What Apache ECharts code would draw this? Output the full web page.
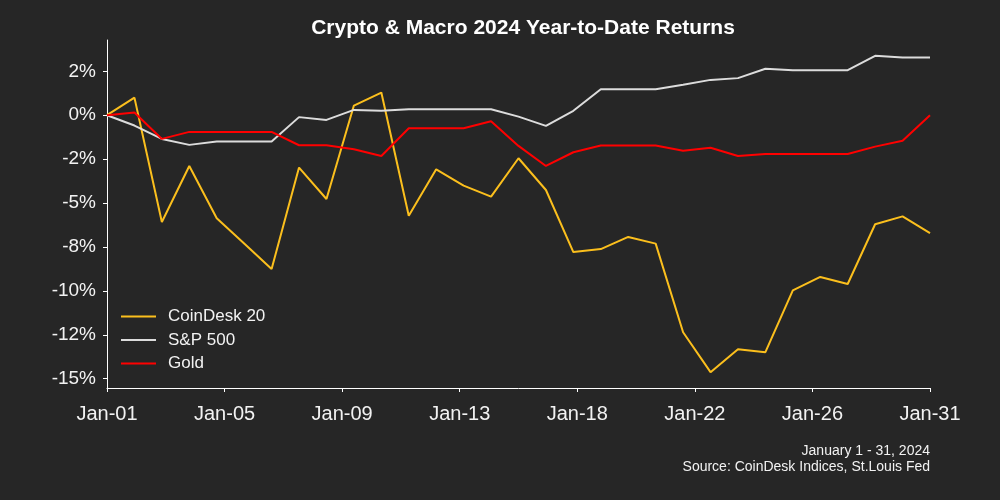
<!DOCTYPE html>
<html>
<head>
<meta charset="utf-8">
<script src="https://cdn.jsdelivr.net/npm/echarts@6/dist/echarts.min.js"></script>
<style>
  html, body { margin: 0; padding: 0; background: #262626; }
  #chart { width: 1000px; height: 500px; }
</style>
</head>
<body>
<div id="chart"></div>
<script>
// one point per calendar day, Jan-01 .. Jan-31
const dates = [
  'Jan-01', 'Jan-02', 'Jan-03', 'Jan-04', 'Jan-05', 'Jan-06', 'Jan-07', 'Jan-08',
  'Jan-09', 'Jan-10', 'Jan-11', 'Jan-12', 'Jan-13', 'Jan-14', 'Jan-15', 'Jan-16',
  'Jan-17', 'Jan-18', 'Jan-19', 'Jan-20', 'Jan-21', 'Jan-22', 'Jan-23', 'Jan-24',
  'Jan-25', 'Jan-26', 'Jan-27', 'Jan-28', 'Jan-29', 'Jan-30', 'Jan-31'
];

const coindesk20 = [
  0, 1.0, -6.08, -2.89, -5.87, -7.3, -8.76, -2.98, -4.77, 0.55,
  1.29, -5.72, -3.08, -4.01, -4.64, -2.45, -4.26, -7.79, -7.62, -6.93,
  -7.31, -12.36, -14.63, -13.32, -13.49, -9.97, -9.21, -9.61, -6.21, -5.76,
  -6.71
];
const sp500 = [
  0, -0.59, -1.35, -1.69, -1.5, -1.5, -1.5, -0.11, -0.27, 0.3,
  0.25, 0.34, 0.34, 0.34, 0.34, -0.08, -0.61, 0.25, 1.48, 1.48,
  1.48, 1.73, 2.01, 2.11, 2.64, 2.56, 2.56, 2.56, 3.38, 3.28,
  3.28
];
const gold = [
  0, 0.15, -1.35, -0.95, -0.95, -0.95, -0.95, -1.71, -1.71, -1.94,
  -2.32, -0.74, -0.74, -0.74, -0.34, -1.75, -2.89, -2.11, -1.73, -1.73,
  -1.73, -2.03, -1.85, -2.32, -2.21, -2.21, -2.21, -2.21, -1.79, -1.46,
  0
];

// y ticks every 2.5%, labels rounded the way the source did
const yTicks = [-15, -12.5, -10, -7.5, -5, -2.5, 0, 2.5];
const yTickLabels = ['-15%', '-12%', '-10%', '-8%', '-5%', '-2%', '0%', '2%'];
// 8 evenly spaced date ticks over the month
const xTickLabels = ['Jan-01', 'Jan-05', 'Jan-09', 'Jan-13', 'Jan-18', 'Jan-22', 'Jan-26', 'Jan-31'];

const span = dates.length - 1;
const xTicks = xTickLabels.map((_, k) => k * span / (xTickLabels.length - 1));

function pairs(values) {
  return values.map((v, i) => [i, v]);
}

function nearestLabel(v, ticks, labels) {
  let best = 0;
  ticks.forEach((t, i) => {
    if (Math.abs(t - v) < Math.abs(ticks[best] - v)) best = i;
  });
  return labels[best];
}

const allValues = coindesk20.concat(sp500, gold);
const dataMin = Math.min(...allValues);
const dataMax = Math.max(...allValues);
const pad = (dataMax - dataMin) * 0.05;

const textColor = '#f2f2f2';
const font = 'Liberation Sans';

const chart = echarts.init(document.getElementById('chart'));

const option = {
  backgroundColor: '#262626',
  animation: false,
  title: {
    text: 'Crypto & Macro 2024 Year-to-Date Returns',
    left: 518,
    top: 13,
    textAlign: 'center',
    textStyle: { color: '#ffffff', fontSize: 21, fontWeight: 'bold', fontFamily: font }
  },
  legend: {
    orient: 'vertical',
    left: 121,
    top: 308,
    padding: 0,
    itemWidth: 35,
    itemHeight: 2,
    itemGap: 6.5,
    icon: 'rect',
    textStyle: { color: textColor, fontSize: 17, fontFamily: font, padding: [0, 0, 0, 7] },
    data: ['CoinDesk 20', 'S&P 500', 'Gold']
  },
  grid: {
    left: 107,
    right: 70,
    top: 40,
    bottom: 112,
    outerBoundsMode: 'none'
  },
  xAxis: {
    type: 'value',
    min: 0,
    max: span,
    splitLine: { show: false },
    axisLine: { show: true, onZero: false, lineStyle: { color: '#ffffff', width: 1 } },
    axisTick: { show: true, length: 4, customValues: xTicks, lineStyle: { color: '#ffffff' } },
    axisLabel: {
      color: textColor,
      fontSize: 20,
      fontFamily: font,
      margin: 16,
      customValues: xTicks,
      formatter: v => nearestLabel(v, xTicks, xTickLabels)
    }
  },
  yAxis: {
    type: 'value',
    min: dataMin - pad,
    max: dataMax + pad,
    splitLine: { show: false },
    axisLine: { show: true, onZero: false, lineStyle: { color: '#ffffff', width: 1 } },
    axisTick: { show: true, length: 4, customValues: yTicks, lineStyle: { color: '#ffffff' } },
    axisLabel: {
      color: textColor,
      fontSize: 19,
      fontFamily: font,
      margin: 11,
      customValues: yTicks,
      formatter: v => nearestLabel(v, yTicks, yTickLabels)
    }
  },
  series: [
    {
      name: 'CoinDesk 20',
      type: 'line',
      data: pairs(coindesk20),
      showSymbol: false,
      color: '#fbbf1d',
      lineStyle: { width: 2 }
    },
    {
      name: 'S&P 500',
      type: 'line',
      data: pairs(sp500),
      showSymbol: false,
      color: '#dcdcdc',
      lineStyle: { width: 2 }
    },
    {
      name: 'Gold',
      type: 'line',
      data: pairs(gold),
      showSymbol: false,
      color: '#ff0000',
      lineStyle: { width: 2 }
    }
  ],
  graphic: [
    {
      type: 'text',
      x: 930,
      y: 451,
      style: {
        text: 'January 1 - 31, 2024',
        fill: textColor,
        font: '14px "Liberation Sans"',
        align: 'right',
        verticalAlign: 'middle'
      }
    },
    {
      type: 'text',
      x: 930,
      y: 467,
      style: {
        text: 'Source: CoinDesk Indices, St.Louis Fed',
        fill: textColor,
        font: '14px "Liberation Sans"',
        align: 'right',
        verticalAlign: 'middle'
      }
    }
  ]
};

chart.setOption(option);
</script>
</body>
</html>
